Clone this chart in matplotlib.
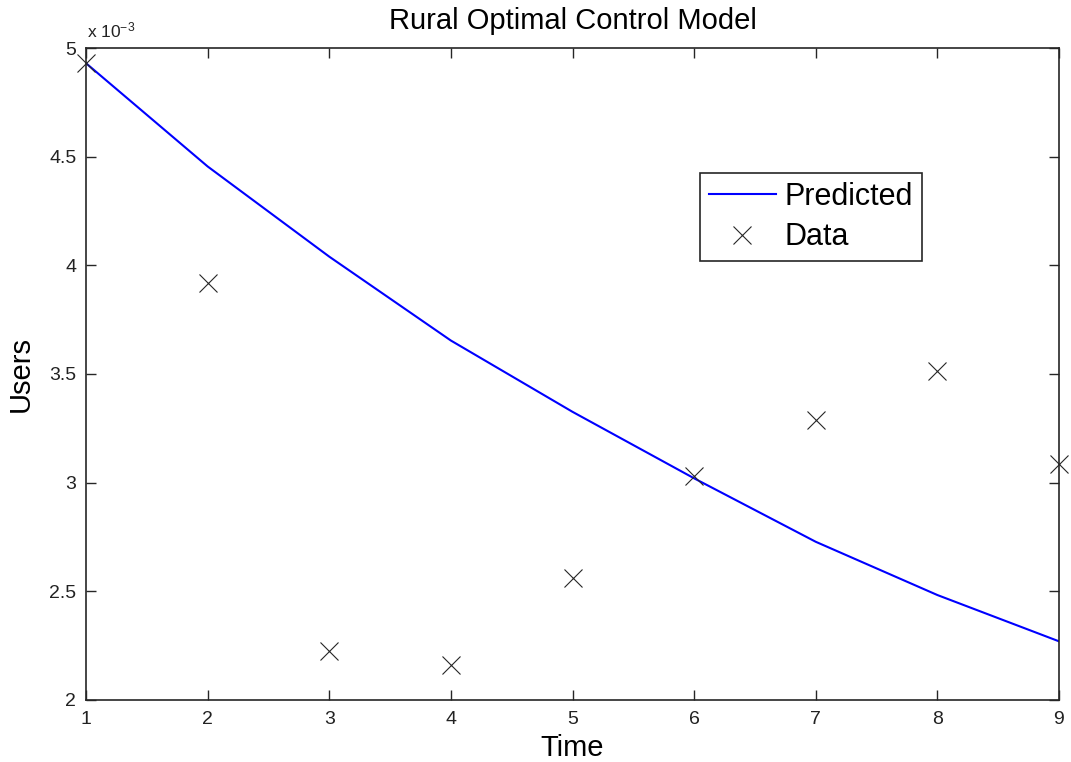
import numpy as np
import matplotlib
matplotlib.use("Agg")
import matplotlib.pyplot as plt
from matplotlib.ticker import FuncFormatter

plt.rcParams["font.family"] = ["Liberation Sans", "DejaVu Sans"]
plt.rcParams["mathtext.fontset"] = "custom"
plt.rcParams["mathtext.rm"] = "Liberation Sans"
plt.rcParams["mathtext.default"] = "regular"

# values
time = [1, 2, 3, 4, 5, 6, 7, 8, 9]
predicted = [4.93e-3, 4.455e-3, 4.04e-3, 3.654e-3, 3.326e-3,
             3.02e-3, 2.728e-3, 2.483e-3, 2.27e-3]
data = [4.93e-3, 3.92e-3, 2.225e-3, 2.16e-3, 2.56e-3,
        3.03e-3, 3.29e-3, 3.515e-3, 3.085e-3]

xticks = [1, 2, 3, 4, 5, 6, 7, 8, 9]
yticks = [2e-3, 2.5e-3, 3e-3, 3.5e-3, 4e-3, 4.5e-3, 5e-3]

fig = plt.figure(figsize=(10.71, 7.62), dpi=100)
ax = fig.add_axes([86 / 1071, 62 / 762, 973 / 1071, 652 / 762])

ax.plot(time, predicted, color="#0000ff", lw=1.5, label="Predicted")
ax.plot(time, data, ls="none", marker="x", ms=13, mew=0.8,
        color="#262626", label="Data", clip_on=False, zorder=5)

ax.set_xlim(1, 9)
ax.set_ylim(2e-3, 5e-3)
ax.set_xticks(xticks)
ax.set_yticks(yticks)
ax.yaxis.set_major_formatter(FuncFormatter(lambda v, p: f"{v * 1e3:g}"))
ax.tick_params(direction="in", length=7, width=1, top=True, right=True,
               labelsize=14, colors="#262626", labelcolor="#222222")
ax.tick_params(axis="y", pad=7)
ax.tick_params(axis="x", pad=8)
for s in ax.spines.values():
    s.set_linewidth(1.2)
    s.set_color("#262626")

fig.text(87 / 1071, 1 - 37 / 762, r"x 10$^{-3}$", fontsize=12.5,
         va="baseline", ha="left", color="#222222")

ax.set_title("Rural Optimal Control Model", fontsize=21, pad=13.5)
ax.set_xlabel("Time", fontsize=21)
ax.set_ylabel("Users", fontsize=21)
ax.xaxis.set_label_coords(0.5, -0.052)
ax.yaxis.set_label_coords(-0.053, 0.5)

leg = ax.legend(loc="upper left", bbox_to_anchor=(0.631, 0.808),
                fontsize=22, frameon=True, fancybox=False, framealpha=1,
                edgecolor="#262626", handlelength=2.2, handletextpad=0.3,
                labelspacing=0.35, borderpad=0.28, borderaxespad=0)
leg.get_frame().set_linewidth(1.2)

plt.savefig("out.png", dpi=100)
plt.close()
